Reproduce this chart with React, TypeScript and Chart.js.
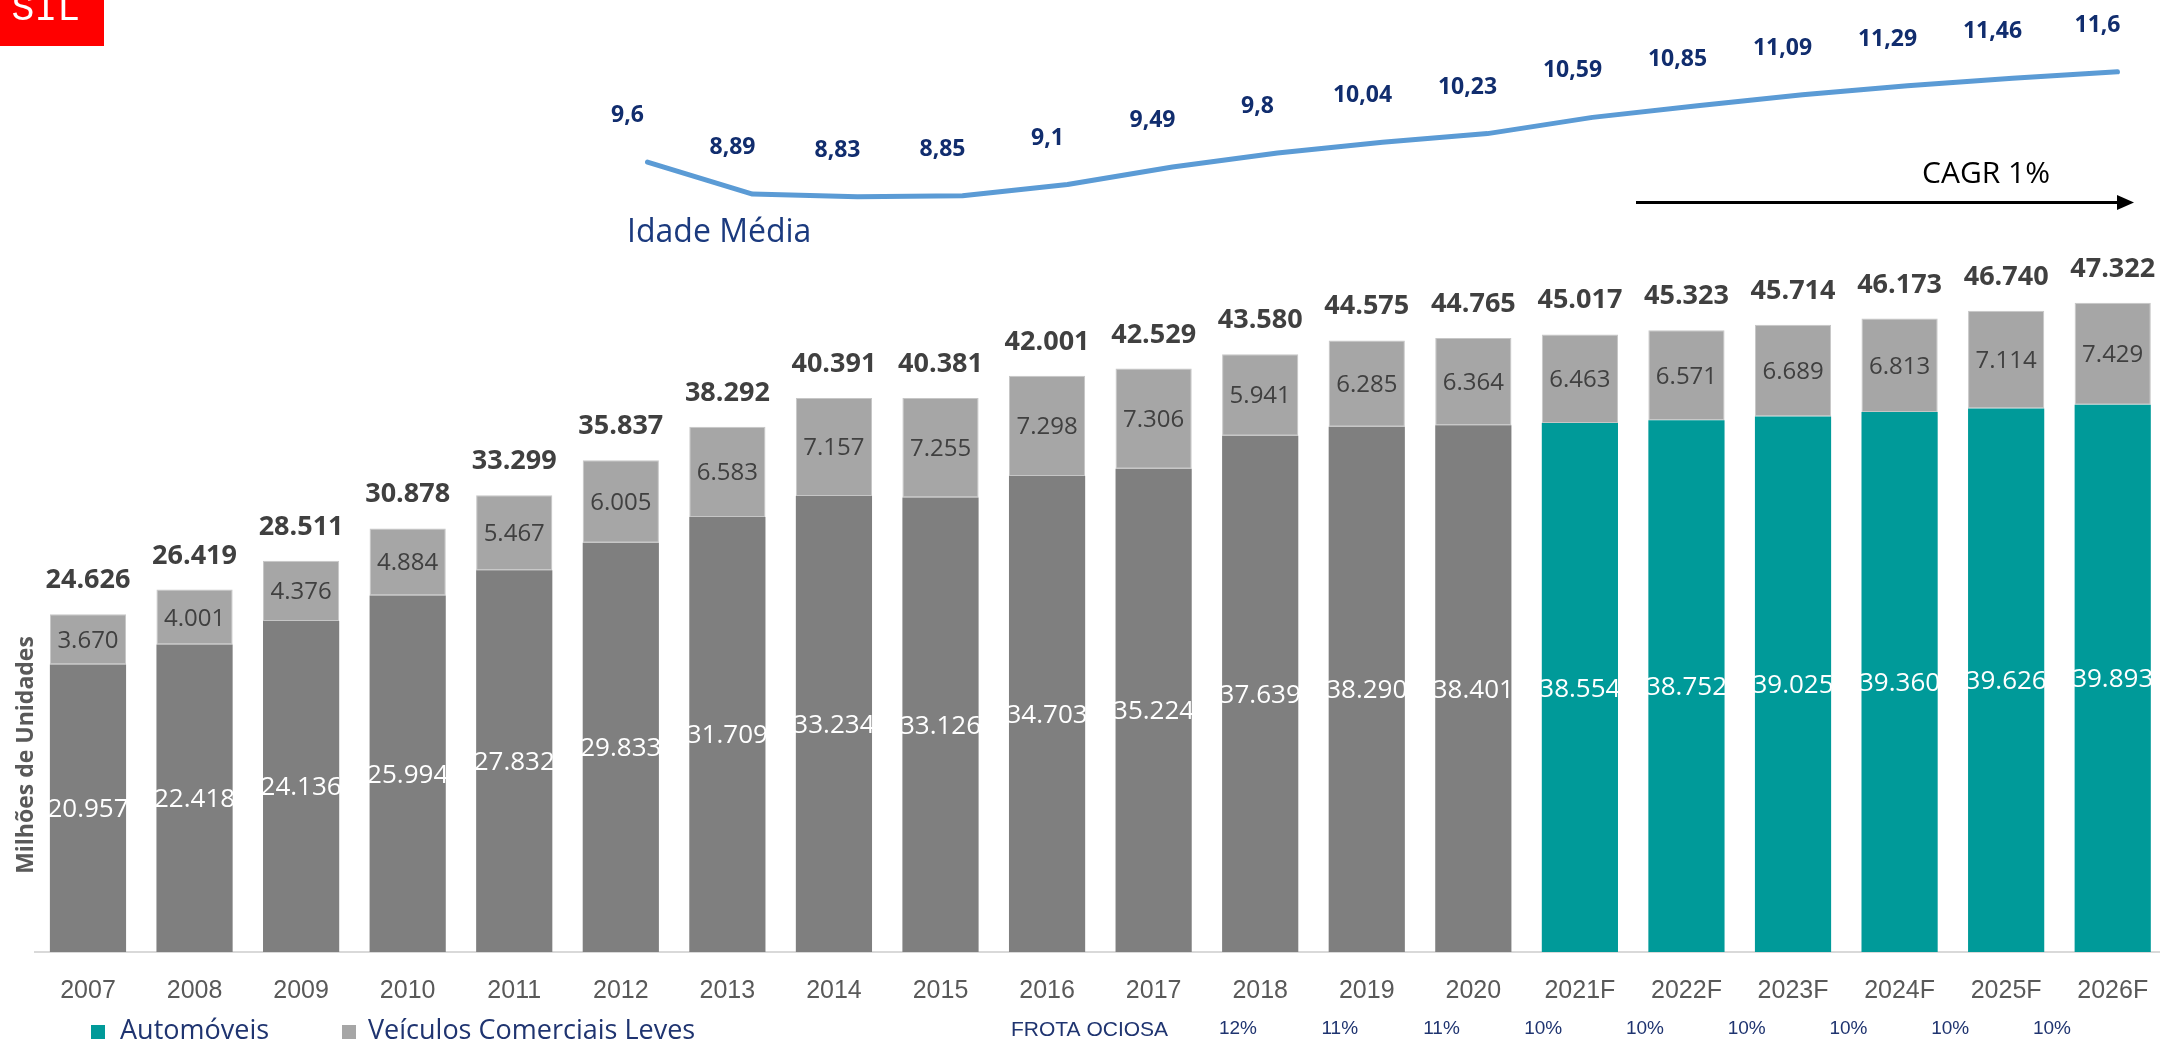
import React, { useEffect, useRef } from 'react';
import { Chart, registerables } from 'chart.js';

Chart.register(...registerables);

const categories = ['2007', '2008', '2009', '2010', '2011', '2012', '2013', '2014', '2015', '2016', '2017', '2018', '2019', '2020', '2021F', '2022F', '2023F', '2024F', '2025F', '2026F'];
const automoveis = [20.957, 22.418, 24.136, 25.994, 27.832, 29.833, 31.709, 33.234, 33.126, 34.703, 35.224, 37.639, 38.290, 38.401, 38.554, 38.752, 39.025, 39.360, 39.626, 39.893];
const veiculosComerciais = [3.670, 4.001, 4.376, 4.884, 5.467, 6.005, 6.583, 7.157, 7.255, 7.298, 7.306, 5.941, 6.285, 6.364, 6.463, 6.571, 6.689, 6.813, 7.114, 7.429];
const totals = [24.626, 26.419, 28.511, 30.878, 33.299, 35.837, 38.292, 40.391, 40.381, 42.001, 42.529, 43.580, 44.575, 44.765, 45.017, 45.323, 45.714, 46.173, 46.740, 47.322];
const ageCategories = ['2012', '2013', '2014', '2015', '2016', '2017', '2018', '2019', '2020', '2021F', '2022F', '2023F', '2024F', '2025F', '2026F'];
const ageValues = [9.6, 8.89, 8.83, 8.85, 9.1, 9.49, 9.8, 10.04, 10.23, 10.59, 10.85, 11.09, 11.29, 11.46, 11.6];
const frotaOciosa = ['12%', '11%', '11%', '10%', '10%', '10%', '10%', '10%', '10%'];

const OPEN = '"Open Sans", "DejaVu Sans", sans-serif';
const LIB = '"Liberation Sans", Arial, sans-serif';
const TEAL = '#009A99';
const DARK = '#7F7F7F';
const LIGHT = '#A6A6A6';
const NAVY = '#112D6E';

const fmtThousand = (v: number) => v.toFixed(3);
const fmtAge = (v: number) => String(v).replace('.', ',');

const overlayPlugin = {
  id: 'overlay',
  afterDatasetsDraw(chart: any) {
    const ctx = chart.ctx as CanvasRenderingContext2D;
    ctx.save();
    ctx.textAlign = 'center';
    ctx.textBaseline = 'alphabetic';

    const autoMeta = chart.getDatasetMeta(0);
    const vclMeta = chart.getDatasetMeta(1);
    const lineMeta = chart.getDatasetMeta(2);

    autoMeta.data.forEach((bar: any, i: number) => {
      const { x, y, base } = bar.getProps(['x', 'y', 'base'], true);
      ctx.font = `26px ${OPEN}`;
      ctx.fillStyle = '#FFFFFF';
      ctx.fillText(fmtThousand(automoveis[i]), x, (y + base) / 2 + 9);
    });
    vclMeta.data.forEach((bar: any, i: number) => {
      const { x, y, base } = bar.getProps(['x', 'y', 'base'], true);
      ctx.font = `24px ${OPEN}`;
      ctx.fillStyle = '#404040';
      ctx.fillText(fmtThousand(veiculosComerciais[i]), x, (y + base) / 2 + 8.5);
      ctx.font = `bold 27px ${OPEN}`;
      ctx.fillText(fmtThousand(totals[i]), x, y - 26);
    });
    lineMeta.data.forEach((pt: any, i: number) => {
      ctx.font = `bold 23px ${OPEN}`;
      ctx.fillStyle = NAVY;
      ctx.fillText(fmtAge(ageValues[i]), pt.x - 20, pt.y - 48 + 8);
    });
    ctx.restore();
  },
  afterDraw(chart: any) {
    const ctx = chart.ctx as CanvasRenderingContext2D;
    ctx.save();
    // red corner tag
    ctx.fillStyle = '#FF0000';
    ctx.fillRect(0, 0, 104, 46);
    ctx.fillStyle = '#FFFFFF';
    ctx.font = `38px "Liberation Mono", "DejaVu Sans Mono", monospace`;
    ctx.textAlign = 'right';
    ctx.textBaseline = 'alphabetic';
    ctx.fillText('SIL', 80, 20);

    // y-axis title
    ctx.save();
    ctx.translate(26, 755);
    ctx.rotate(-Math.PI / 2);
    ctx.textAlign = 'center';
    ctx.textBaseline = 'middle';
    ctx.fillStyle = '#595959';
    ctx.font = `bold 23px ${OPEN}`;
    ctx.fillText('Milhões de Unidades', 0, 0);
    ctx.restore();

    // Idade Média
    ctx.textAlign = 'left';
    ctx.fillStyle = '#1B3A7E';
    ctx.font = `32px ${OPEN}`;
    ctx.textBaseline = 'middle';
    ctx.fillText('Idade Média', 627, 233);

    // CAGR
    ctx.textAlign = 'center';
    ctx.fillStyle = '#000000';
    ctx.font = `30px ${OPEN}`;
    ctx.fillText('CAGR 1%', 1986, 174);
    ctx.strokeStyle = '#000000';
    ctx.lineWidth = 3;
    ctx.beginPath();
    ctx.moveTo(1636, 202.5);
    ctx.lineTo(2120, 202.5);
    ctx.stroke();
    ctx.beginPath();
    ctx.moveTo(2134, 202.5);
    ctx.lineTo(2117, 195);
    ctx.lineTo(2117, 210);
    ctx.closePath();
    ctx.fillStyle = '#000000';
    ctx.fill();

    // legend
    ctx.fillStyle = TEAL;
    ctx.fillRect(91, 1025, 14, 14);
    ctx.fillStyle = LIGHT;
    ctx.fillRect(342, 1025, 14, 14);
    ctx.textAlign = 'left';
    ctx.textBaseline = 'middle';
    ctx.font = `27px ${OPEN}`;
    ctx.fillStyle = '#1F3470';
    ctx.fillText('Automóveis', 120, 1031);
    ctx.fillText('Veículos Comerciais Leves', 368, 1031);

    // frota ociosa
    ctx.font = `21px ${LIB}`;
    ctx.fillText('FROTA OCIOSA', 1011, 1030);
    ctx.textAlign = 'center';
    ctx.font = `19px ${LIB}`;
    frotaOciosa.forEach((t, i) => {
      ctx.fillText(t, 1238 + i * 101.75, 1029);
    });
    ctx.restore();
  },
};

export default function App() {
  const canvasRef = useRef<HTMLCanvasElement | null>(null);

  useEffect(() => {
    if (!canvasRef.current) return;
    const autoColors = categories.map((c) => (c.endsWith('F') ? TEAL : DARK));
    const chart = new Chart(canvasRef.current, {
      type: 'bar',
      data: {
        labels: categories,
        datasets: [
          {
            label: 'Automóveis',
            data: automoveis,
            backgroundColor: autoColors,
            borderWidth: 0,
            barPercentage: 0.715,
            categoryPercentage: 1,
            grouped: false,
            stack: 'frota',
            xAxisID: 'x',
            yAxisID: 'y',
            order: 2,
          },
          {
            label: 'Veículos Comerciais Leves',
            data: veiculosComerciais,
            backgroundColor: LIGHT,
            borderColor: '#C6C6C6',
            borderWidth: 1,
            borderSkipped: false,
            barPercentage: 0.715,
            categoryPercentage: 1,
            grouped: false,
            stack: 'frota',
            xAxisID: 'x',
            yAxisID: 'y',
            order: 2,
          },
          {
            type: 'line',
            label: 'Idade Média',
            data: ageValues.map((v, i) => ({ x: i, y: v })),
            borderColor: '#5B9BD5',
            borderWidth: 5,
            borderCapStyle: 'round',
            borderJoinStyle: 'round',
            pointRadius: 0,
            tension: 0,
            fill: false,
            xAxisID: 'x2',
            yAxisID: 'y2',
            order: 1,
          } as any,
        ],
      },
      options: {
        responsive: false,
        animation: false,
        devicePixelRatio: 1,
        layout: { padding: { top: 0, bottom: 23, left: 34.7, right: 4 } },
        plugins: {
          legend: { display: false },
          tooltip: { enabled: false },
        },
        scales: {
          x: {
            type: 'category',
            stacked: true,
            offset: true,
            grid: { display: false },
            border: { display: true, color: '#D9D9D9', width: 2 },
            ticks: { color: '#595959', font: { family: LIB, size: 25 }, padding: 16, maxRotation: 0, autoSkip: false },
          },
          y: {
            type: 'linear',
            display: false,
            stacked: true,
            min: 0,
            max: 950 / 13.69,
          },
          x2: {
            type: 'linear',
            display: false,
            offset: false,
            min: -5.836,
            max: 14.462,
          },
          y2: {
            type: 'linear',
            display: false,
            min: -7.918,
            max: 13.193,
          },
        },
      } as any,
      plugins: [overlayPlugin],
    });
    return () => chart.destroy();
  }, []);

  return (
    <div style={{ position: 'absolute', left: 0, top: 0, width: 2160, height: 1045, overflow: 'hidden', background: '#FFFFFF' }}>
      <canvas ref={canvasRef} width={2170} height={1045} style={{ display: 'block' }} />
    </div>
  );
}
